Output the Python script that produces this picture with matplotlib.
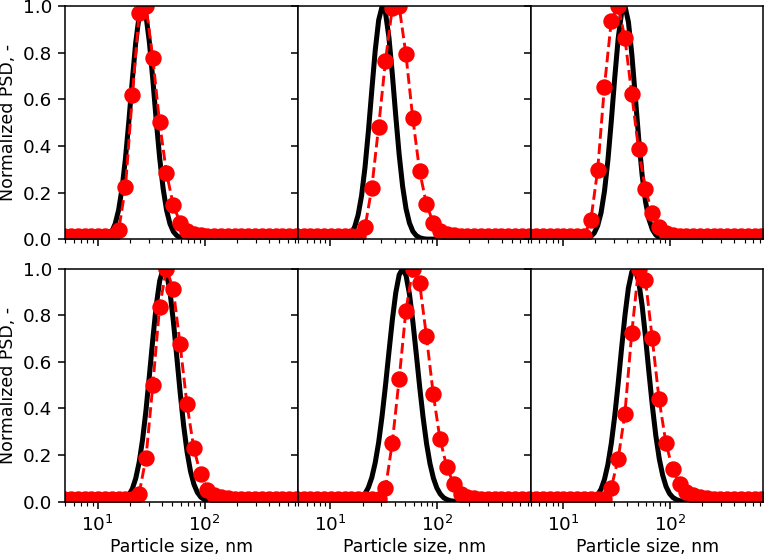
import matplotlib
matplotlib.use("Agg")
import matplotlib.pyplot as plt

# measured size bins (nm) for the red data
size_meas = [4.85, 5.62, 6.51, 7.54, 8.73, 10.1, 11.7, 13.6, 15.7, 18.2,
             21.1, 24.4, 28.3, 32.8, 37.9, 44.0, 50.9, 59.0, 68.3, 79.1,
             91.6, 106, 123, 142, 165, 191, 221, 256, 297, 344,
             398, 461, 534, 619, 717]

psd_meas = [
    [0.012, 0.012, 0.012, 0.012, 0.012, 0.012, 0.012, 0.012, 0.037, 0.223,
     0.618, 0.969, 1.0, 0.776, 0.501, 0.285, 0.147, 0.071, 0.036, 0.022,
     0.016, 0.013, 0.012, 0.012, 0.012, 0.012, 0.012, 0.012, 0.012, 0.012,
     0.012, 0.012, 0.012, 0.012, 0.012],
    [0.012, 0.012, 0.012, 0.012, 0.012, 0.012, 0.012, 0.012, 0.012, 0.012,
     0.050, 0.219, 0.483, 0.766, 0.99, 1.0, 0.794, 0.52, 0.294, 0.151,
     0.071, 0.035, 0.022, 0.016, 0.012, 0.012, 0.012, 0.012, 0.012, 0.012,
     0.012, 0.012, 0.012, 0.012, 0.012],
    [0.012, 0.012, 0.012, 0.012, 0.012, 0.012, 0.012, 0.012, 0.015, 0.080,
     0.297, 0.654, 0.937, 1.0, 0.864, 0.621, 0.386, 0.214, 0.111, 0.050,
     0.025, 0.016, 0.012, 0.012, 0.012, 0.012, 0.012, 0.012, 0.012, 0.012,
     0.012, 0.012, 0.012, 0.012, 0.012],
    [0.012, 0.012, 0.012, 0.012, 0.012, 0.012, 0.012, 0.012, 0.012, 0.012,
     0.012, 0.034, 0.188, 0.500, 0.835, 1.0, 0.912, 0.675, 0.421, 0.232,
     0.118, 0.052, 0.028, 0.018, 0.014, 0.012, 0.012, 0.012, 0.012, 0.012,
     0.012, 0.012, 0.012, 0.012, 0.012],
    [0.012, 0.012, 0.012, 0.012, 0.012, 0.012, 0.012, 0.012, 0.012, 0.012,
     0.012, 0.012, 0.012, 0.058, 0.25, 0.525, 0.82, 1.0, 0.94, 0.713,
     0.464, 0.27, 0.148, 0.078, 0.035, 0.022, 0.016, 0.013, 0.012, 0.012,
     0.012, 0.012, 0.012, 0.012, 0.012],
    [0.012, 0.012, 0.012, 0.012, 0.012, 0.012, 0.012, 0.012, 0.012, 0.012,
     0.012, 0.012, 0.060, 0.184, 0.377, 0.726, 1.0, 0.953, 0.702, 0.441,
     0.254, 0.139, 0.075, 0.043, 0.028, 0.020, 0.015, 0.012, 0.012, 0.012,
     0.012, 0.012, 0.012, 0.012, 0.012],
]

# sizes (nm) at which the black fitted curves were read
size_fit = [8.71, 9.38, 10.09, 10.87, 11.70, 12.59, 13.55, 14.59, 15.70, 16.91,
            18.20, 19.59, 21.09, 22.70, 24.44, 26.31, 28.32, 30.48, 32.82, 35.32,
            38.03, 40.93, 44.06, 47.43, 51.06, 54.97, 59.17, 63.69, 68.56, 73.81,
            79.45, 85.53, 92.07, 99.11, 106.7, 114.8, 123.6, 133.1, 143.3, 154.2,
            166.0, 178.7, 192.4, 207.1, 222.9, 240.0, 258.3, 278.1, 299.3]

psd_fit = [
    [0, 0, 0, 0.002, 0.006, 0.015, 0.032, 0.066, 0.125, 0.218,
     0.347, 0.508, 0.683, 0.844, 0.959, 1.0, 0.959, 0.844, 0.683, 0.508,
     0.347, 0.218, 0.125, 0.066, 0.032, 0.015, 0.006, 0.002, 0, 0,
     0, 0, 0, 0, 0, 0, 0, 0, 0, 0,
     0, 0, 0, 0, 0, 0, 0, 0, 0],
    [0, 0, 0, 0, 0, 0.002, 0.004, 0.011, 0.025, 0.053,
     0.104, 0.186, 0.307, 0.463, 0.640, 0.811, 0.940, 0.998, 0.971, 0.866,
     0.707, 0.528, 0.362, 0.227, 0.130, 0.069, 0.033, 0.015, 0.006, 0.002,
     0, 0, 0, 0, 0, 0, 0, 0, 0, 0,
     0, 0, 0, 0, 0, 0, 0, 0, 0],
    [0, 0, 0, 0, 0, 0, 0, 0, 0.001, 0.004,
     0.011, 0.026, 0.057, 0.113, 0.206, 0.339, 0.508, 0.693, 0.861, 0.972,
     0.998, 0.932, 0.792, 0.613, 0.431, 0.275, 0.160, 0.085, 0.041, 0.018,
     0.007, 0.003, 0, 0, 0, 0, 0, 0, 0, 0,
     0, 0, 0, 0, 0, 0, 0, 0, 0],
    [0, 0, 0, 0, 0, 0, 0, 0.001, 0.003, 0.006,
     0.014, 0.029, 0.055, 0.100, 0.169, 0.267, 0.393, 0.543, 0.699, 0.843,
     0.948, 0.998, 0.981, 0.902, 0.774, 0.621, 0.466, 0.327, 0.214, 0.131,
     0.075, 0.040, 0.020, 0.009, 0.004, 0.002, 0, 0, 0, 0,
     0, 0, 0, 0, 0, 0, 0, 0, 0],
    [0, 0, 0, 0, 0, 0, 0, 0, 0.002, 0.004,
     0.009, 0.018, 0.034, 0.061, 0.104, 0.168, 0.255, 0.368, 0.500, 0.642,
     0.781, 0.897, 0.974, 1.0, 0.971, 0.891, 0.772, 0.633, 0.491, 0.360,
     0.249, 0.163, 0.101, 0.059, 0.033, 0.017, 0.009, 0.004, 0.002, 0,
     0, 0, 0, 0, 0, 0, 0, 0, 0],
    [0, 0, 0, 0, 0, 0, 0, 0, 0.001, 0.003,
     0.007, 0.014, 0.029, 0.054, 0.096, 0.160, 0.251, 0.368, 0.508, 0.658,
     0.802, 0.918, 0.987, 0.996, 0.945, 0.842, 0.705, 0.554, 0.410, 0.284,
     0.185, 0.114, 0.065, 0.035, 0.018, 0.009, 0.004, 0.002, 0, 0,
     0, 0, 0, 0, 0, 0, 0, 0, 0],
]

dpi = 139
fig, axes = plt.subplots(2, 3, figsize=(765 / dpi, 557 / dpi), dpi=dpi,
                         sharex=True, sharey=True)
plt.subplots_adjust(left=0.0856, right=0.998, top=0.989, bottom=0.0993,
                    wspace=0, hspace=0.127)

for i, ax in enumerate(axes.flat):
    ax.plot(size_fit, psd_fit[i], color='black', lw=2.6)
    ax.plot(size_meas, psd_meas[i], color='red', ls='--', lw=1.5,
            marker='o', ms=7.5)
    ax.set_xscale('log')
    ax.set_xlim(5, 750)
    ax.set_ylim(0, 1)
    ax.tick_params(labelsize=9.5)

for ax in axes[:, 0]:
    ax.set_ylabel('Normalized PSD, -', fontsize=9)
    ax.yaxis.set_label_coords(-0.21, 0.5)
for ax in axes[1, :]:
    ax.set_xlabel('Particle size, nm', fontsize=9)
    ax.xaxis.set_label_coords(0.5, -0.155)

plt.savefig('out.png', dpi=dpi)
